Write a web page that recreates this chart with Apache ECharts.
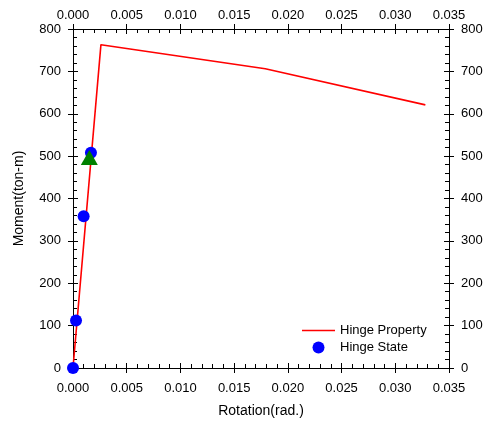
<!DOCTYPE html>
<html>
<head>
<meta charset="utf-8">
<script src="https://cdn.jsdelivr.net/npm/echarts@6/dist/echarts.min.js"></script>
<style>
  html, body { margin: 0; padding: 0; background: #fff; }
  #chart { width: 489px; height: 430px; }
</style>
</head>
<body>
<div id="chart"></div>
<script>
// Moment-rotation backbone of the hinge
const propertyRotation = [0, 0.0026, 0.0179, 0.0328];
const propertyMoment = [0, 763, 706, 621];

// Hinge states recorded during the analysis
const stateRotation = [0, 0.00028, 0.00099, 0.00167];
const stateMoment = [0, 112, 358, 508];

// Current hinge state
const currentRotation = [0.00152];
const currentMoment = [497];

const xMin = 0, xMax = 0.035, xStep = 0.005;
const yMin = 0, yMax = 800, yStep = 100;

const FONT = "'Liberation Sans', Arial, sans-serif";
const black = '#000';

function pairs(xs, ys) { return xs.map((x, i) => [x, ys[i]]); }

function xFmt(v) { return v.toFixed(3); }

// Each side gets two axes on the same line: one with outward major ticks
// and labels, one with inward major and minor ticks.
function xAxisPair(position, showLabels, margin, name) {
  const base = {
    type: 'value', position: position, min: xMin, max: xMax, interval: xStep,
    splitLine: { show: false },
    axisLine: { show: true, onZero: false, lineStyle: { color: black, width: 1 } }
  };
  return [
    Object.assign({}, base, {
      axisTick: { show: true, inside: false, length: 5, lineStyle: { color: black } },
      axisLabel: { show: showLabels, margin: margin, formatter: xFmt, color: black, fontFamily: FONT, fontSize: 13 },
      name: name || '', nameLocation: 'middle', nameGap: 36,
      nameTextStyle: { color: black, fontFamily: FONT, fontSize: 14 }
    }),
    Object.assign({}, base, {
      axisTick: { show: true, inside: true, length: 5, lineStyle: { color: black } },
      minorTick: { show: true, splitNumber: 5, length: 4, lineStyle: { color: black } },
      axisLabel: { show: false }
    })
  ];
}

function yAxisPair(position, margin, name) {
  const base = {
    type: 'value', position: position, min: yMin, max: yMax, interval: yStep,
    splitLine: { show: false },
    axisLine: { show: true, onZero: false, lineStyle: { color: black, width: 1 } }
  };
  return [
    Object.assign({}, base, {
      axisTick: { show: true, inside: false, length: 5, lineStyle: { color: black } },
      axisLabel: { show: true, margin: margin, color: black, fontFamily: FONT, fontSize: 13 },
      name: name || '', nameLocation: 'middle', nameGap: 47,
      nameTextStyle: { color: black, fontFamily: FONT, fontSize: 14 }
    }),
    Object.assign({}, base, {
      axisTick: { show: true, inside: true, length: 5, lineStyle: { color: black } },
      minorTick: { show: true, splitNumber: 5, length: 4, lineStyle: { color: black } },
      axisLabel: { show: false }
    })
  ];
}

const chart = echarts.init(document.getElementById('chart'), null, { renderer: 'canvas' });

chart.setOption({
  animation: false,
  backgroundColor: '#fff',
  grid: { left: 73, right: 40, top: 29, bottom: 62, containLabel: false },
  xAxis: [].concat(
    xAxisPair('bottom', true, 14, 'Rotation(rad.)'),
    xAxisPair('top', true, 7)
  ),
  yAxis: [].concat(
    yAxisPair('left', 12, 'Moment(ton-m)'),
    yAxisPair('right', 12)
  ),
  legend: {
    orient: 'vertical',
    left: 302, top: 324, padding: 0,
    itemWidth: 33, itemHeight: 12, itemGap: 4,
    textStyle: { color: black, fontFamily: FONT, fontSize: 13 },
    data: [
      { name: 'Hinge Property', icon: 'path://M0,0 L31,0 L31,1.6 L0,1.6 Z' },
      { name: 'Hinge State', icon: 'circle' }
    ]
  },
  series: [
    {
      name: 'Hinge Property', type: 'line',
      data: pairs(propertyRotation, propertyMoment),
      symbol: 'none',
      lineStyle: { color: '#ff0000', width: 1.6 },
      itemStyle: { color: '#ff0000' },
      z: 2
    },
    {
      name: 'Hinge State', type: 'scatter',
      data: pairs(stateRotation, stateMoment),
      symbol: 'circle', symbolSize: 12,
      itemStyle: { color: '#0000ff', opacity: 1 },
      z: 3
    },
    {
      name: 'Current State', type: 'scatter',
      data: pairs(currentRotation, currentMoment),
      symbol: 'triangle', symbolSize: [17, 15],
      itemStyle: { color: '#008000', opacity: 1 },
      z: 4
    }
  ]
});
</script>
</body>
</html>
